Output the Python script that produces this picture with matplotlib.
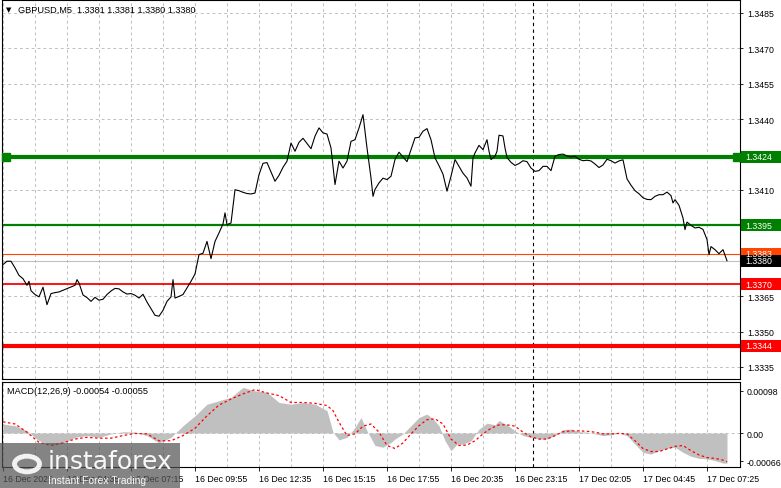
import numpy as np
import matplotlib
matplotlib.use("Agg")
import matplotlib.pyplot as plt
from matplotlib.patches import Rectangle, Circle

plt.rcParams["font.family"] = ["Liberation Sans", "DejaVu Sans"]

# Header texts
symbol_title = "GBPUSD,M5  1.3381 1.3381 1.3380 1.3380"
macd_title = "MACD(12,26,9) -0.00054 -0.00055"

# Close prices (bar index -> price)
price_bar = [
    0, 2, 4, 6, 8, 10, 12, 13, 14, 16,
    18, 20, 22, 24, 26, 28, 30, 32, 34, 36,
    37, 38, 40, 42, 44, 46, 48, 50, 52, 54,
    56, 58, 60, 62, 64, 66, 68, 70, 72, 74,
    76, 78, 80, 82, 84, 85, 86, 88, 90, 92,
    94, 96, 98, 100, 102, 104, 106, 108, 110, 111,
    112, 114, 116, 118, 120, 122, 124, 126, 128, 130,
    132, 134, 136, 138, 140, 142, 144, 146, 148, 150,
    152, 154, 156, 158, 160, 162, 164, 166, 168, 170,
    172, 174, 176, 178, 180, 182, 184, 185, 186, 188,
    190, 192, 194, 196, 198, 200, 202, 204, 206, 208,
    210, 212, 214, 216, 218, 220, 222, 224, 226, 228,
    230, 232, 234, 235, 236, 238, 240, 242, 243, 244,
    246, 247, 248, 250, 251, 252, 254, 256, 258, 260,
    262, 264, 266, 268, 270, 272, 274, 276, 278, 280,
    282, 284, 286, 288, 290, 292, 294, 296, 298, 300,
    302, 304, 306, 308, 310, 312, 314, 316, 318, 320,
    322, 324, 326, 328, 330, 332, 334, 335, 336, 338,
    340, 341, 342, 344, 346, 348, 350, 352, 353, 354,
    356, 358, 360, 362,
]
price_close = [
    1.33784, 1.33798, 1.33798, 1.33770, 1.33738, 1.33724, 1.33696, 1.33713, 1.33673, 1.33657,
    1.33647, 1.33688, 1.33614, 1.33661, 1.33665, 1.33668, 1.33675, 1.33682, 1.33689, 1.33696,
    1.33720, 1.33706, 1.33655, 1.33644, 1.33628, 1.33645, 1.33633, 1.33637, 1.33657, 1.33672,
    1.33683, 1.33681, 1.33668, 1.33659, 1.33661, 1.33654, 1.33642, 1.33658, 1.33625, 1.33597,
    1.33569, 1.33565, 1.33590, 1.33628, 1.33647, 1.33720, 1.33642, 1.33649, 1.33657, 1.33685,
    1.33713, 1.33744, 1.33826, 1.33832, 1.33882, 1.33809, 1.33882, 1.33918, 1.33956, 1.34003,
    1.33953, 1.33960, 1.34101, 1.34097, 1.34090, 1.34085, 1.34083, 1.34087, 1.34165, 1.34213,
    1.34216, 1.34176, 1.34137, 1.34162, 1.34196, 1.34222, 1.34299, 1.34264, 1.34302, 1.34319,
    1.34297, 1.34275, 1.34328, 1.34363, 1.34342, 1.34337, 1.34278, 1.34123, 1.34222, 1.34193,
    1.34222, 1.34306, 1.34313, 1.34363, 1.34419, 1.34278, 1.34151, 1.34073, 1.34102, 1.34130,
    1.34150, 1.34144, 1.34158, 1.34229, 1.34260, 1.34240, 1.34220, 1.34271, 1.34321, 1.34323,
    1.34349, 1.34360, 1.34313, 1.34236, 1.34203, 1.34167, 1.34095, 1.34158, 1.34229, 1.34200,
    1.34171, 1.34151, 1.34116, 1.34236, 1.34257, 1.34289, 1.34271, 1.34313, 1.34264, 1.34229,
    1.34243, 1.34264, 1.34332, 1.34329, 1.34278, 1.34238, 1.34217, 1.34204, 1.34212, 1.34224,
    1.34220, 1.34193, 1.34179, 1.34182, 1.34200, 1.34200, 1.34182, 1.34243, 1.34250, 1.34252,
    1.34244, 1.34240, 1.34243, 1.34230, 1.34224, 1.34226, 1.34223, 1.34210, 1.34195, 1.34206,
    1.34230, 1.34224, 1.34214, 1.34223, 1.34228, 1.34147, 1.34120, 1.34097, 1.34084, 1.34067,
    1.34060, 1.34059, 1.34073, 1.34080, 1.34080, 1.34091, 1.34076, 1.34045, 1.34059, 1.34035,
    1.33981, 1.33932, 1.33964, 1.33950, 1.33939, 1.33942, 1.33933, 1.33890, 1.33826, 1.33860,
    1.33847, 1.33830, 1.33847, 1.33800,
]

# Time axis
time_labels = [
    "16 Dec 2025", "16 Dec 04:35", "16 Dec 07:15", "16 Dec 09:55",
    "16 Dec 12:35", "16 Dec 15:15", "16 Dec 17:55", "16 Dec 20:35",
    "16 Dec 23:15", "17 Dec 02:05", "17 Dec 04:45", "17 Dec 07:25",
]
label_bars = [0, 32, 64, 96, 128, 160, 192, 224, 256, 288, 320, 352]
grid_bars = [0, 16, 32, 48, 64, 80, 96, 112, 128, 144, 160, 176, 192,
             208, 224, 240, 256, 272, 288, 304, 320, 336, 352]
day_separator_bar = 265
n_slots = 369

# Price axis
price_ticks = [1.3335, 1.3350, 1.3365, 1.3380, 1.3395, 1.3410, 1.3425,
               1.3440, 1.3455, 1.3470, 1.3485]
hidden_ticks = [1.3380, 1.3395, 1.3425]

# Horizontal levels
level_prices = [1.3424, 1.3395, 1.3370, 1.3344]
level_colors = ["#008000", "#008000", "#ff0000", "#ff0000"]
level_widths = [3.0, 1.6, 1.3, 3.0]
ask_price = 1.3383
bid_price = 1.3380

# MACD main (histogram), units of 1e-5
hist_bar = [
    0, 6, 12, 18, 24, 30, 36, 42, 48, 54,
    60, 66, 72, 78, 84, 90, 96, 102, 108, 114,
    120, 126, 132, 138, 144, 150, 156, 162, 165, 168,
    172, 176, 179, 182, 186, 190, 194, 196, 200, 204,
    208, 212, 215, 218, 221, 224, 227, 230, 234, 238,
    242, 246, 248, 252, 256, 260, 264, 268, 272, 276,
    280, 284, 288, 292, 296, 300, 304, 308, 312, 316,
    320, 324, 328, 332, 336, 340, 344, 348, 352, 356,
    360, 362,
]
hist_vals = [
    21, 17, 5, -18, -28, -23, -10, -6, -10, -2,
    3, 2, -6, -23, -10, 17, 40, 67, 75, 83,
    106, 98, 95, 71, 67, 71, 67, 52, 2, -16,
    -10, 13, 36, 5, -29, -33, -22, -14, -2, 17,
    36, 44, 33, 17, -18, -41, -26, -26, -18, 9,
    23, 19, 29, 19, 5, -6, -10, -14, -14, -6,
    8, 9, 3, 2, -2, -6, -4, 0, -6, -26,
    -45, -49, -41, -36, -33, -45, -54, -59, -60, -64,
    -70, -70,
]

# MACD signal line, units of 1e-5
signal_bar = [
    0, 6, 12, 18, 24, 30, 36, 42, 48, 54,
    60, 66, 72, 78, 84, 90, 96, 102, 108, 114,
    120, 126, 132, 138, 144, 150, 156, 162, 165, 168,
    172, 176, 180, 184, 188, 192, 196, 200, 204, 208,
    212, 216, 220, 224, 228, 232, 236, 240, 244, 248,
    252, 256, 260, 264, 268, 272, 276, 280, 284, 288,
    292, 296, 300, 304, 308, 312, 316, 320, 324, 328,
    332, 336, 340, 344, 348, 352, 356, 360, 362,
]
signal_vals = [
    26, 21, 2, -22, -29, -23, -14, -10, -12, -12,
    -6, -1, -2, -18, -18, -6, 11, 40, 65, 79,
    91, 101, 93, 87, 71, 71, 69, 64, 52, 25,
    -6, -2, 16, 21, 2, -29, -36, -23, -2, 17,
    31, 33, 21, -14, -29, -28, -18, -2, 11, 19,
    19, 16, 2, -9, -14, -14, -6, 3, 5, 5,
    4, 2, -2, -2, -1, -2, -18, -36, -43, -43,
    -37, -31, -29, -41, -51, -57, -59, -63, -67,
]
macd_ticks = [0.00098, 0.0, -0.00066]
macd_tick_labels = ["0.00098", "0.00", "-0.00066"]

W, H = 781, 489
fig = plt.figure(figsize=(W / 100, H / 100), dpi=100)
fig.patch.set_facecolor("white")

ax = fig.add_axes([2 / W, 1 - 380 / H, 738 / W, 379 / H])
ax2 = fig.add_axes([2 / W, 1 - 468 / H, 738 / W, 85 / H])

grid_kw = dict(color="#c0c0c0", lw=0.7, ls=(0, (3, 3)), zorder=0)
tick_fs = 6.3

# ---- main price panel
ax.set_xlim(-0.5, n_slots - 0.5)
ax.set_ylim(1.33299, 1.34905)
for b in grid_bars:
    ax.axvline(b, **grid_kw)
for p in price_ticks:
    ax.axhline(p, **grid_kw)
ax.axvline(day_separator_bar, color="black", lw=0.8, ls=(0, (3, 3)), zorder=1)

for p, c, w in zip(level_prices, level_colors, level_widths):
    ax.axhline(p, color=c, lw=w, zorder=2)
ax.axhline(ask_price, color="#ff4500", lw=0.8, zorder=2)
ax.axhline(bid_price, color="#c0c0c0", lw=0.8, zorder=2)

ax.plot(price_bar, price_close, color="black", lw=0.8, zorder=3)

ytr = ax.get_yaxis_transform()
ax.plot([0.0055, 0.996], [level_prices[0]] * 2, ls="none", marker="s",
        ms=5.6, color="#008000", transform=ytr, clip_on=False, zorder=4)

ax.set_xticks([])
ax.yaxis.tick_right()
ax.set_yticks(price_ticks)
ax.set_yticklabels(["" if p in hidden_ticks else f"{p:.4f}" for p in price_ticks])
ax.tick_params(axis="y", length=2.5, width=0.6, pad=2.5, labelsize=tick_fs)
for s in ax.spines.values():
    s.set_linewidth(0.8)

# price boxes on the right scale
box_h = 0.00050
boxes = [
    (level_prices[0], "#008000"),
    (level_prices[1], "#008000"),
    (ask_price, "#ff4500"),
    (bid_price, "#000000"),
    (level_prices[2], "#ff0000"),
    (level_prices[3], "#ff0000"),
]
for p, c in boxes:
    ax.add_patch(Rectangle((1.0015, p - box_h / 2), 0.056, box_h, transform=ytr,
                           facecolor=c, edgecolor="none", clip_on=False, zorder=5))
    ax.text(1.0075, p, f"{p:.4f}", transform=ytr, color="white", fontsize=tick_fs,
            va="center", ha="left", zorder=6, clip_on=False)

# ---- MACD panel
ax2.set_xlim(-0.5, n_slots - 0.5)
ax2.set_ylim(-79e-5, 118.6e-5)
for b in grid_bars:
    ax2.axvline(b, **grid_kw)
ax2.axhline(0, **grid_kw)
ax2.axvline(day_separator_bar, color="black", lw=0.8, ls=(0, (3, 3)), zorder=1)

hb = np.array(hist_bar)
hv = np.array(hist_vals) * 1e-5
ax2.fill_between(hb, 0, hv, color="#c0c0c0", lw=0, zorder=2)
ax2.plot(signal_bar, np.array(signal_vals) * 1e-5, color="#ff0000", lw=0.9,
         ls=(0, (2, 2)), zorder=3)

ax2.yaxis.tick_right()
ax2.set_yticks(macd_ticks)
ax2.set_yticklabels(macd_tick_labels)
ax2.tick_params(axis="y", length=2.5, width=0.6, pad=2, labelsize=tick_fs)
ax2.set_xticks(label_bars)
ax2.set_xticklabels(time_labels)
ax2.tick_params(axis="x", length=3, width=0.6, pad=2, labelsize=tick_fs)
for lab in ax2.get_xticklabels():
    lab.set_ha("left")
for s in ax2.spines.values():
    s.set_linewidth(0.8)

# ---- header texts
fig.text(6 / W, 1 - 10 / H, "\u25bc", fontsize=5, va="center", ha="left",
         family="DejaVu Sans")
fig.text(18 / W, 1 - 10 / H, symbol_title, fontsize=tick_fs + 0.3, va="center", ha="left")
fig.text(7 / W, 1 - 392 / H, macd_title, fontsize=tick_fs + 0.3, va="center", ha="left")

# ---- watermark
fig.patches.append(Rectangle((0, 0), 180 / W, 45 / H, transform=fig.transFigure,
                             facecolor="#555555", alpha=0.72, edgecolor="none",
                             zorder=10))
fig.patches.append(Circle((27 / W, 1 - 465 / H), 0.016, transform=fig.transFigure,
                          facecolor="none", edgecolor="white", lw=3.5, alpha=0.9,
                          zorder=11))
fig.text(48 / W, 1 - 462 / H, "instaforex", fontsize=18, color="white",
         va="center", ha="left", family="DejaVu Sans", zorder=12, alpha=0.95)
fig.text(48 / W, 1 - 481 / H, "Instant Forex Trading", fontsize=7.5, color="white",
         va="center", ha="left", zorder=12, alpha=0.95)

fig.savefig("out.png", dpi=100)
